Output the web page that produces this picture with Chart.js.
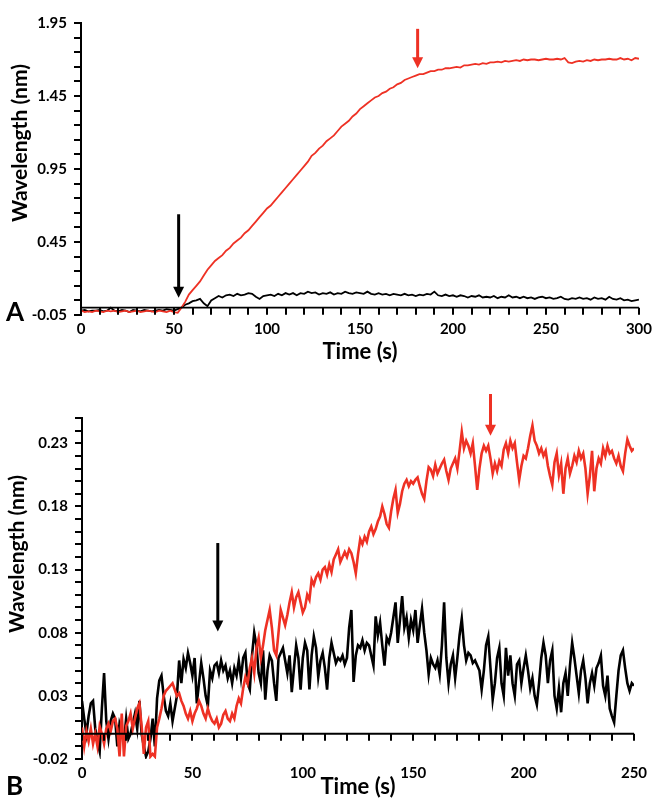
<!DOCTYPE html>
<html lang="en">
<head>
  <meta charset="UTF-8">
  <title>Wavelength shift vs time</title>
  <script src="https://cdn.jsdelivr.net/npm/chart.js"></script>
  <style>
    body { margin: 0; background: #fff; }
    .panel { position: absolute; left: 0; width: 657px; }
    #panelA { top: 0; height: 365px; }
    #panelB { top: 375px; height: 425px; }
  </style>
</head>
<body>
  <div class="panel" id="panelA"><canvas id="chartA"></canvas></div>
  <div class="panel" id="panelB"><canvas id="chartB"></canvas></div>

  <script>
    // ---- Panel A data (one reading every 2 s) ----
    const stepA = 2;
    const redA = [
      -0.02,-0.03,-0.025,-0.03,-0.02,-0.025,-0.03,-0.02,-0.025,-0.02,
      -0.03,-0.025,-0.02,-0.03,-0.025,-0.02,-0.03,-0.025,-0.02,-0.025,
      -0.03,-0.02,-0.025,-0.03,-0.02,-0.03,-0.035,0.00,0.04,0.09,
      0.12,0.15,0.18,0.22,0.26,0.29,0.32,0.34,0.36,0.39,
      0.41,0.44,0.46,0.48,0.51,0.53,0.56,0.59,0.62,0.65,
      0.68,0.70,0.73,0.76,0.79,0.82,0.85,0.88,0.91,0.94,
      0.97,1.00,1.04,1.06,1.09,1.11,1.14,1.16,1.18,1.21,
      1.24,1.26,1.28,1.31,1.33,1.36,1.38,1.40,1.42,1.44,
      1.45,1.47,1.48,1.50,1.51,1.53,1.54,1.56,1.57,1.58,
      1.59,1.60,1.60,1.61,1.62,1.62,1.63,1.63,1.64,1.64,
      1.645,1.65,1.645,1.66,1.66,1.665,1.67,1.665,1.675,1.67,
      1.68,1.68,1.685,1.68,1.69,1.685,1.69,1.695,1.69,1.70,
      1.695,1.70,1.70,1.695,1.70,1.705,1.70,1.70,1.705,1.70,
      1.71,1.68,1.675,1.685,1.69,1.685,1.695,1.69,1.70,1.695,
      1.70,1.70,1.705,1.70,1.70,1.71,1.70,1.705,1.695,1.71,
      1.705
    ];
    const blackA = [
      -0.02,-0.015,-0.025,-0.02,-0.02,-0.015,-0.025,-0.02,0.0,-0.02,
      -0.025,-0.015,-0.02,-0.03,-0.015,-0.02,-0.025,-0.015,-0.02,-0.025,
      -0.02,-0.015,-0.02,-0.01,-0.015,-0.02,-0.01,0.0,0.02,0.03,
      0.045,0.05,0.06,0.03,0.01,0.05,0.065,0.08,0.07,0.085,
      0.09,0.08,0.095,0.085,0.09,0.1,0.095,0.075,0.06,0.08,
      0.085,0.09,0.08,0.095,0.085,0.1,0.09,0.1,0.085,0.1,
      0.095,0.11,0.1,0.105,0.09,0.1,0.095,0.105,0.09,0.1,
      0.095,0.11,0.1,0.095,0.105,0.1,0.095,0.11,0.095,0.09,
      0.1,0.09,0.095,0.085,0.095,0.09,0.085,0.095,0.085,0.09,
      0.08,0.09,0.085,0.095,0.09,0.11,0.085,0.08,0.09,0.08,
      0.085,0.075,0.085,0.08,0.07,0.08,0.075,0.085,0.07,0.075,
      0.07,0.08,0.065,0.075,0.07,0.085,0.07,0.075,0.065,0.075,
      0.065,0.07,0.06,0.07,0.075,0.065,0.07,0.06,0.065,0.075,
      0.06,0.055,0.065,0.06,0.07,0.06,0.065,0.055,0.07,0.06,
      0.065,0.055,0.075,0.06,0.055,0.065,0.05,0.055,0.045,0.05,
      0.055
    ];
    const xMaxA = 300;
    const yMinA = -0.05, yMaxA = 1.95;
    const yMajorA = [-0.05, 0.45, 0.95, 1.45, 1.95];
    const yMinorStepA = 0.1;

    // ---- Panel B data (one reading every 1 s) ----
    const stepB = 1;
    const redB = [
      0.005,-0.010,0.002,-0.006,0.004,-0.008,0.000,-0.010,0.006,0.000,
      -0.008,0.004,0.008,0.002,0.010,0.012,0.004,-0.018,0.016,-0.018,
      0.006,0.010,0.016,0.004,0.012,0.020,0.024,0.006,-0.016,0.005,
      0.010,-0.018,-0.016,-0.018,0.005,0.012,0.020,0.030,0.034,0.036,
      0.038,0.040,0.035,0.030,0.032,0.026,0.022,0.016,0.012,0.018,
      0.010,0.016,0.020,0.026,0.022,0.016,0.012,0.020,0.014,0.010,
      0.008,0.012,0.005,0.008,0.015,0.018,0.012,0.010,0.016,0.012,
      0.022,0.028,0.024,0.036,0.045,0.040,0.052,0.060,0.048,0.068,
      0.076,0.060,0.070,0.082,0.090,0.098,0.084,0.066,0.062,0.080,
      0.098,0.092,0.086,0.094,0.104,0.112,0.100,0.108,0.112,0.104,
      0.096,0.100,0.110,0.106,0.122,0.118,0.124,0.127,0.122,0.130,
      0.132,0.126,0.134,0.128,0.138,0.142,0.146,0.136,0.140,0.144,
      0.140,0.146,0.143,0.136,0.127,0.142,0.154,0.150,0.156,0.152,
      0.160,0.164,0.158,0.162,0.168,0.172,0.180,0.174,0.166,0.163,
      0.176,0.186,0.193,0.175,0.182,0.192,0.198,0.201,0.196,0.200,
      0.198,0.201,0.203,0.196,0.190,0.186,0.200,0.211,0.209,0.204,
      0.213,0.206,0.210,0.214,0.217,0.208,0.201,0.210,0.214,0.218,
      0.210,0.224,0.239,0.226,0.232,0.228,0.222,0.230,0.212,0.193,
      0.210,0.222,0.228,0.224,0.228,0.218,0.206,0.214,0.208,0.216,
      0.212,0.225,0.230,0.222,0.232,0.226,0.230,0.215,0.201,0.212,
      0.220,0.218,0.226,0.236,0.244,0.232,0.228,0.222,0.226,0.220,
      0.224,0.212,0.204,0.197,0.215,0.222,0.205,0.214,0.190,0.210,
      0.218,0.206,0.212,0.220,0.215,0.224,0.218,0.222,0.210,0.190,
      0.204,0.224,0.192,0.210,0.218,0.214,0.226,0.220,0.228,0.222,
      0.224,0.218,0.214,0.220,0.212,0.208,0.222,0.233,0.228,0.224,
      0.226
    ];
    const blackB = [
      0.026,0.012,0.000,0.014,0.024,0.026,0.004,-0.006,-0.014,0.020,
      0.048,0.010,-0.004,0.010,0.016,0.012,-0.010,0.008,0.002,-0.006,
      0.012,-0.004,0.000,0.008,0.016,0.004,0.026,0.000,-0.010,-0.018,
      -0.014,-0.004,0.012,-0.010,0.028,0.042,0.046,0.030,0.018,0.014,
      0.024,0.010,0.020,0.030,0.058,0.040,0.059,0.052,0.064,0.056,
      0.046,0.060,0.024,0.040,0.056,0.044,0.030,0.022,0.050,0.044,
      0.054,0.056,0.048,0.058,0.050,0.054,0.044,0.050,0.040,0.052,
      0.046,0.058,0.044,0.060,0.064,0.040,0.035,0.062,0.080,0.070,
      0.048,0.040,0.066,0.027,0.050,0.062,0.058,0.040,0.026,0.060,
      0.064,0.068,0.058,0.048,0.062,0.033,0.052,0.070,0.060,0.035,
      0.060,0.072,0.066,0.035,0.062,0.077,0.068,0.045,0.058,0.064,
      0.052,0.035,0.060,0.072,0.064,0.056,0.060,0.058,0.062,0.055,
      0.060,0.084,0.098,0.041,0.062,0.070,0.068,0.074,0.066,0.072,
      0.070,0.062,0.054,0.093,0.078,0.088,0.070,0.054,0.076,0.072,
      0.080,0.092,0.104,0.072,0.090,0.109,0.084,0.092,0.076,0.090,
      0.082,0.098,0.072,0.086,0.099,0.080,0.066,0.047,0.060,0.055,
      0.052,0.058,0.047,0.070,0.104,0.060,0.040,0.055,0.062,0.044,
      0.060,0.078,0.091,0.070,0.058,0.064,0.062,0.056,0.058,0.054,
      0.050,0.035,0.050,0.070,0.077,0.052,0.027,0.040,0.060,0.068,
      0.040,0.030,0.068,0.046,0.062,0.040,0.030,0.055,0.058,0.040,
      0.052,0.062,0.050,0.036,0.044,0.030,0.023,0.040,0.060,0.072,
      0.062,0.040,0.058,0.066,0.030,0.020,0.036,0.017,0.040,0.048,
      0.030,0.054,0.072,0.060,0.046,0.032,0.050,0.058,0.044,0.024,
      0.040,0.048,0.038,0.052,0.056,0.062,0.038,0.030,0.046,0.020,
      0.014,0.009,0.030,0.050,0.062,0.066,0.052,0.040,0.034,0.040,
      0.038
    ];
    const xMaxB = 250;
    const yMinB = -0.02, yMaxB = 0.25;
    const yMajorB = [-0.02, 0.03, 0.08, 0.13, 0.18, 0.23];
    const yMinorStepB = 0.01;

    const xMajorStep = 50;
    const xMinorStep = 10;

    // arrows marking injection / plateau, in data units
    const arrowsA = [
      { t: 52.5, from: 0.64, to: 0.068, series: 'black' },
      { t: 181, from: 1.91, to: 1.64, series: 'red' }
    ];
    const arrowsB = [
      { t: 61.5, from: 0.151, to: 0.081, series: 'black' },
      { t: 185, from: 0.269, to: 0.236, series: 'red' }
    ];

    const RED = '#ee3124';
    const BLACK = '#000000';
    const FONT = 'Lato, "Open Sans", sans-serif';
    const TICK_LEN = 7;

    function toPoints(values, step) {
      return values.map((v, i) => ({ x: i * step, y: v }));
    }

    // x axis line at y = 0 with its tick marks, y tick marks, arrows, titles, panel letter
    const panelDecor = {
      id: 'panelDecor',
      afterDraw(chart, args, o) {
        const { ctx, chartArea: area, scales: { x, y } } = chart;
        ctx.save();
        ctx.strokeStyle = BLACK;
        ctx.lineCap = 'butt';

        // tick marks on the y axis, pointing left
        ctx.lineWidth = o.tickWidth;
        ctx.beginPath();
        y.ticks.forEach(tk => {
          const py = Math.round(y.getPixelForValue(tk.value));
          ctx.moveTo(area.left - TICK_LEN, py);
          ctx.lineTo(area.left, py);
        });
        ctx.stroke();

        // horizontal axis crossing at zero, tick marks pointing down
        const y0 = y.getPixelForValue(0);
        ctx.lineWidth = o.axisWidth;
        ctx.beginPath();
        ctx.moveTo(area.left, y0);
        ctx.lineTo(area.right, y0);
        ctx.stroke();
        ctx.lineWidth = o.tickWidth;
        ctx.beginPath();
        for (let t = x.min; t <= x.max; t += xMinorStep) {
          const px = Math.round(x.getPixelForValue(t));
          ctx.moveTo(px, y0);
          ctx.lineTo(px, y0 + TICK_LEN);
        }
        ctx.stroke();

        o.arrows.forEach(a => {
          const px = x.getPixelForValue(a.t);
          const y1 = y.getPixelForValue(a.from);
          const y2 = y.getPixelForValue(a.to);
          const color = a.series === 'red' ? RED : BLACK;
          const head = 11;
          ctx.strokeStyle = color;
          ctx.fillStyle = color;
          ctx.lineWidth = 3;
          ctx.beginPath();
          ctx.moveTo(px, y1);
          ctx.lineTo(px, y2 - head + 1);
          ctx.stroke();
          ctx.beginPath();
          ctx.moveTo(px - 5.5, y2 - head);
          ctx.lineTo(px + 5.5, y2 - head);
          ctx.lineTo(px, y2);
          ctx.closePath();
          ctx.fill();
        });

        ctx.fillStyle = BLACK;
        ctx.textAlign = 'center';
        ctx.textBaseline = 'middle';
        ctx.font = 'bold 22px ' + FONT;
        ctx.fillText('Time (s)', (area.left + area.right) / 2, o.xTitleY);

        ctx.save();
        ctx.font = 'bold 21px ' + FONT;
        ctx.translate(o.yTitleX, o.yTitleY);
        ctx.rotate(-Math.PI / 2);
        ctx.fillText('Wavelength (nm)', 0, 0);
        ctx.restore();

        ctx.font = 'bold 26px ' + FONT;
        ctx.textAlign = 'left';
        ctx.textBaseline = 'alphabetic';
        ctx.fillText(o.letter, o.letterX, o.letterY);

        ctx.restore();
      }
    };

    function makeChart(id, cfg) {
      const isMajor = v => cfg.yMajor.some(m => Math.abs(m - v) < 1e-6);
      return new Chart(document.getElementById(id), {
        type: 'line',
        data: {
          datasets: [
            { label: 'red', data: toPoints(cfg.red, cfg.step), borderColor: RED,
              borderWidth: cfg.lineWidth, pointRadius: 0, tension: 0, fill: false },
            { label: 'black', data: toPoints(cfg.black, cfg.step), borderColor: BLACK,
              borderWidth: cfg.lineWidth, pointRadius: 0, tension: 0, fill: false }
          ]
        },
        options: {
          responsive: true,
          maintainAspectRatio: false,
          animation: false,
          events: [],
          layout: { padding: cfg.padding },
          plugins: {
            legend: { display: false },
            tooltip: { enabled: false },
            panelDecor: cfg.decor
          },
          scales: {
            x: {
              type: 'linear',
              min: 0,
              max: cfg.xMax,
              grid: { display: false, drawTicks: false },
              border: { display: false },
              ticks: {
                stepSize: xMajorStep,
                autoSkip: false,
                maxRotation: 0,
                padding: 5,
                color: BLACK,
                font: { family: FONT, weight: 'bold', size: 15 }
              },
              afterFit: s => { s.height = cfg.xAxisHeight; }
            },
            y: {
              min: cfg.yMin,
              max: cfg.yMax,
              afterBuildTicks: s => {
                const ticks = [];
                const n = Math.round((cfg.yMax - cfg.yMin) / cfg.yMinorStep);
                for (let i = 0; i <= n; i++) ticks.push({ value: +(cfg.yMin + i * cfg.yMinorStep).toFixed(4) });
                s.ticks = ticks;
              },
              grid: { drawOnChartArea: false, drawTicks: false },
              border: { display: true, color: BLACK, width: 2 },
              ticks: {
                autoSkip: false,
                padding: 14,
                color: BLACK,
                font: { family: FONT, weight: 'bold', size: 15 },
                callback: v => isMajor(v) ? v.toFixed(2) : ''
              },
              afterFit: s => { s.width = cfg.yAxisWidth; }
            }
          }
        },
        plugins: [panelDecor]
      });
    }

    makeChart('chartA', {
      red: redA, black: blackA, step: stepA,
      xMax: xMaxA, yMin: yMinA, yMax: yMaxA, yMajor: yMajorA, yMinorStep: yMinorStepA,
      lineWidth: 1.8,
      padding: { top: 10, right: 17, left: 0, bottom: 0 },
      xAxisHeight: 50, yAxisWidth: 81,
      decor: { axisWidth: 1.8, tickWidth: 2, arrows: arrowsA, xTitleY: 352, yTitleX: 20, yTitleY: 143,
               letter: 'A', letterX: 6, letterY: 321 }
    });

    makeChart('chartB', {
      red: redB, black: blackB, step: stepB,
      xMax: xMaxB, yMin: yMinB, yMax: yMaxB, yMajor: yMajorB, yMinorStep: yMinorStepB,
      lineWidth: 2.6,
      padding: { top: 43, right: 23, left: 0, bottom: 0 },
      xAxisHeight: 41, yAxisWidth: 82,
      decor: { axisWidth: 2.2, tickWidth: 2, arrows: arrowsB, xTitleY: 412, yTitleX: 17, yTitleY: 179,
               letter: 'B', letterX: 6, letterY: 420 }
    });
  </script>
</body>
</html>
